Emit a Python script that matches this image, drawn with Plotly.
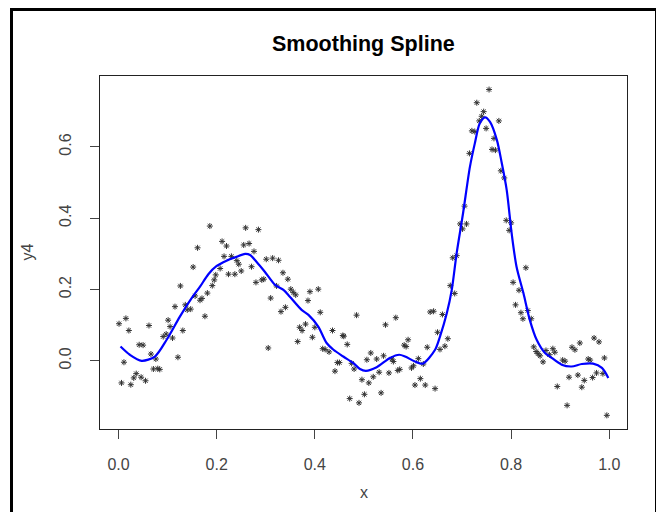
import plotly.graph_objects as go

x_pts = [0.001,0.006,0.011,0.015,0.021,0.025,0.031,0.036,0.042,0.046,0.050,0.055,0.062,0.066,0.071,0.076,0.080,0.084,0.091,0.097,
         0.101,0.105,0.110,0.115,0.121,0.126,0.131,0.136,0.140,0.147,0.152,0.156,0.161,0.166,0.170,0.176,0.181,0.186,0.191,0.195,
         0.198,0.207,0.211,0.215,0.220,0.224,0.230,0.237,0.241,0.245,0.250,0.255,0.259,0.266,0.271,0.276,0.280,0.285,0.292,0.296,
         0.301,0.305,0.310,0.314,0.322,0.326,0.331,0.335,0.340,0.345,0.351,0.356,0.361,0.365,0.369,0.374,0.381,0.386,0.390,0.395,
         0.400,0.407,0.411,0.416,0.421,0.429,0.436,0.441,0.446,0.450,0.457,0.459,0.466,0.471,0.475,0.480,0.485,0.490,0.496,0.501,
         0.506,0.510,0.514,0.519,0.526,0.531,0.535,0.540,0.544,0.551,0.557,0.560,0.565,0.569,0.573,0.582,0.586,0.590,0.597,0.601,
         0.604,0.611,0.615,0.621,0.625,0.629,0.635,0.642,0.645,0.650,0.655,0.660,0.665,0.671,0.676,0.681,0.685,0.689,0.696,0.701,
         0.705,0.709,0.715,0.720,0.726,0.730,0.735,0.740,0.744,0.749,0.755,0.761,0.765,0.768,0.775,0.779,0.786,0.790,0.796,0.800,
         0.804,0.809,0.816,0.820,0.824,0.830,0.834,0.841,0.846,0.851,0.855,0.859,0.865,0.871,0.878,0.885,0.889,0.894,0.905,0.910,
         0.914,0.918,0.924,0.930,0.936,0.940,0.944,0.949,0.957,0.961,0.966,0.969,0.974,0.979,0.987,0.990,0.995]
y4 = [0.104,-0.062,-0.004,0.119,0.085,-0.067,-0.048,-0.036,0.045,-0.046,0.044,-0.056,0.099,0.019,-0.023,0.005,-0.022,-0.024,0.068,0.075,
      0.114,0.096,0.064,0.152,0.010,0.210,0.085,0.157,0.143,0.145,0.263,0.182,0.317,0.170,0.175,0.125,0.190,0.378,0.211,0.227,
      0.241,0.259,0.335,0.293,0.322,0.243,0.293,0.243,0.281,0.271,0.252,0.325,0.373,0.329,0.264,0.307,0.220,0.368,0.227,0.229,
      0.285,0.036,0.176,0.288,0.210,0.282,0.138,0.247,0.150,0.229,0.201,0.192,0.185,0.054,0.094,0.085,0.103,0.169,0.194,0.066,
      0.094,0.201,0.136,0.034,0.032,0.025,0.085,-0.029,-0.005,-0.005,0.071,0.069,0.046,-0.106,-0.007,-0.023,0.128,-0.118,-0.053,-0.094,
      0.003,-0.062,0.022,-0.045,0.005,-0.032,-0.090,0.014,0.101,-0.034,0.005,-0.002,0.121,-0.027,-0.024,0.044,0.040,0.059,-0.020,-0.014,
      -0.068,0.006,-0.050,-0.009,-0.068,0.038,0.137,0.139,-0.078,0.080,0.032,0.130,0.041,0.062,0.211,0.289,0.189,0.295,0.384,0.370,
      0.434,0.384,0.582,0.645,0.643,0.724,0.673,0.686,0.699,0.652,0.761,0.593,0.624,0.591,0.673,0.533,0.513,0.394,0.366,0.387,
      0.220,0.157,0.198,0.135,0.118,0.261,0.141,0.118,0.039,0.026,0.020,0.014,-0.003,0.029,0.017,0.034,0.024,-0.072,0.002,-0.001,
      -0.125,-0.046,0.038,0.031,-0.040,0.050,-0.074,-0.055,0.005,0.002,-0.047,0.064,-0.034,0.053,-0.036,0.008,-0.153]

# fitted smoothing spline
x_fit = [0.004,0.023,0.047,0.074,0.098,0.125,0.149,0.166,0.183,0.200,0.220,0.237,0.258,0.268,0.281,0.298,0.319,0.336,0.349,0.373,
         0.387,0.407,0.424,0.438,0.458,0.478,0.492,0.504,0.526,0.553,0.572,0.584,0.604,0.620,0.645,0.655,0.669,0.679,0.689,0.702,
         0.716,0.726,0.736,0.747,0.757,0.771,0.781,0.791,0.801,0.811,0.825,0.838,0.852,0.869,0.879,0.903,0.923,0.944,0.967,0.985,0.998]
y_fit = [0.040,0.017,0.000,0.012,0.059,0.124,0.176,0.208,0.243,0.266,0.281,0.290,0.300,0.297,0.278,0.250,0.213,0.199,0.180,0.143,
         0.129,0.096,0.050,0.031,0.012,-0.006,-0.023,-0.028,-0.018,0.008,0.017,0.012,-0.002,-0.008,0.031,0.068,0.134,0.199,0.302,0.414,
         0.544,0.610,0.666,0.683,0.670,0.619,0.554,0.479,0.358,0.264,0.190,0.115,0.059,0.022,0.012,-0.011,-0.016,-0.009,-0.008,-0.020,-0.048]

x_ticks = [0.0, 0.2, 0.4, 0.6, 0.8, 1.0]
x_tick_labels = ["0.0", "0.2", "0.4", "0.6", "0.8", "1.0"]
y_ticks = [0.0, 0.2, 0.4, 0.6]
y_tick_labels = ["0.0", "0.2", "0.4", "0.6"]

FONT = "Liberation Sans, Arial, sans-serif"

# page body has an 8px margin: work in figure pixels = picture pixels - 8
OFF = 8
W, H = 664 - OFF, 512 - OFF
L, T = 100 - OFF, 76 - OFF
R = W - (627 - OFF)
B = H - (429 - OFF)
pw, ph = W - L - R, H - T - B

def px(xp):
    return (xp - OFF - L) / pw

def py(yp):
    return (H - B - (yp - OFF)) / ph

fig = go.Figure()
fig.add_trace(go.Scatter(
    x=x_pts, y=y4, mode="markers",
    marker=dict(symbol="asterisk-open", size=5, color="#333333",
                line=dict(width=1, color="#333333")),
    showlegend=False, hoverinfo="skip"))
fig.add_trace(go.Scatter(
    x=x_fit, y=y_fit, mode="lines",
    line=dict(color="#0000ff", width=2.2, shape="spline", smoothing=0.8),
    showlegend=False, hoverinfo="skip"))

fig.update_layout(
    width=W, height=H,
    margin=dict(l=L, r=R, t=T, b=B, pad=0),
    paper_bgcolor="white", plot_bgcolor="white",
    font=dict(family=FONT, size=16, color="#444444"),
    xaxis=dict(range=[-0.0378, 1.0361], tickvals=x_ticks, ticktext=x_tick_labels,
               showgrid=False, zeroline=False, showline=True, linecolor="#222222",
               linewidth=1, mirror=True, ticks="outside", ticklen=9, tickcolor="#444444",
               ticklabelstandoff=12, tickfont=dict(size=16, color="#444444")),
    yaxis=dict(range=[-0.1913, 0.799], tickvals=y_ticks, ticktext=y_tick_labels,
               showgrid=False, zeroline=False, showline=True, linecolor="#222222",
               linewidth=1, mirror=True, ticks="outside", ticklen=9, tickcolor="#444444",
               tickangle=-90, ticklabelstandoff=13, tickfont=dict(size=16, color="#444444")),
    annotations=[
        dict(text="<b>Smoothing Spline</b>", x=0.5, y=py(44), xref="paper", yref="paper",
             showarrow=False, xanchor="center", yanchor="middle",
             font=dict(family=FONT, size=21.5, color="#000000")),
        dict(text="x", x=0.5, y=py(492), xref="paper", yref="paper",
             showarrow=False, xanchor="center", yanchor="middle",
             font=dict(family=FONT, size=16, color="#444444")),
        dict(text="y4", x=px(27), y=0.5, xref="paper", yref="paper", textangle=-90,
             showarrow=False, xanchor="center", yanchor="middle",
             font=dict(family=FONT, size=16, color="#444444")),
    ],
    shapes=[
        dict(type="rect", xref="paper", yref="paper",
             x0=px(11.5), x1=px(656.5), y0=py(530), y1=py(9.5),
             line=dict(color="black", width=3), fillcolor="rgba(0,0,0,0)", layer="above"),
    ],
)

fig.write_html("out.html")
